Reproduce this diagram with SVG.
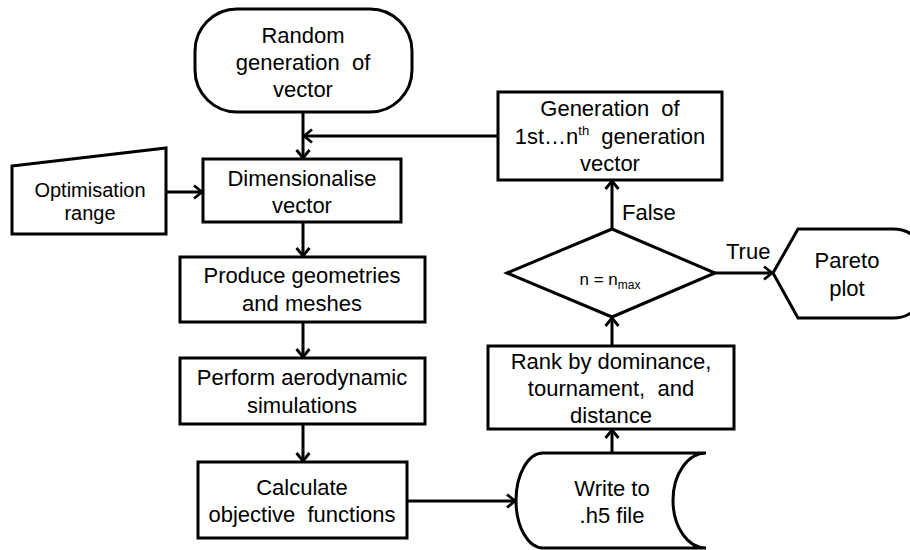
<svg xmlns="http://www.w3.org/2000/svg" width="910" height="550" viewBox="0 0 910 550">
<style>
.s{fill:#fff;stroke:#000;stroke-width:3}
.c{fill:none;stroke:#000;stroke-width:3}
text{font-family:"Liberation Sans",Arial,sans-serif;font-size:22px;fill:#000;text-anchor:middle;white-space:pre}
.sm{font-size:20px}
.lbl{text-anchor:start}
</style>
<defs>
<marker id="a" markerUnits="userSpaceOnUse" markerWidth="20" markerHeight="20" viewBox="-10 -10 20 20" refX="0" refY="0" orient="auto">
<path d="M-8,-6.5 L0,0 L-8,6.5" fill="none" stroke="#000" stroke-width="2.8"/>
</marker>
</defs>
<g id="connectors">
<line class="c" x1="303" y1="112" x2="303" y2="158" marker-end="url(#a)"/>
<line class="c" x1="498" y1="136" x2="304" y2="136" marker-end="url(#a)"/>
<line class="c" x1="166" y1="192" x2="202" y2="192" marker-end="url(#a)"/>
<line class="c" x1="303" y1="223" x2="303" y2="256" marker-end="url(#a)"/>
<line class="c" x1="303" y1="322" x2="303" y2="357" marker-end="url(#a)"/>
<line class="c" x1="303" y1="424" x2="303" y2="461" marker-end="url(#a)"/>
<line class="c" x1="407" y1="501" x2="515" y2="501" marker-end="url(#a)"/>
<line class="c" x1="612" y1="453" x2="612" y2="430" marker-end="url(#a)"/>
<line class="c" x1="612" y1="346" x2="612" y2="318" marker-end="url(#a)"/>
<line class="c" x1="612" y1="229" x2="612" y2="181" marker-end="url(#a)"/>
<line class="c" x1="715" y1="273" x2="772" y2="273" marker-end="url(#a)"/>
<text class="lbl" x="622" y="220">False</text>
<text class="lbl" x="726" y="259">True</text>
</g>
<g id="start">
<rect class="s" x="195" y="9" width="217" height="103" rx="42" ry="42"/>
<text x="303" y="43">Random</text>
<text x="303" y="70">generation  of</text>
<text x="303" y="97">vector</text>
</g>
<g id="optim">
<polygon class="s" points="12,166 166,148 166,234 12,234"/>
<text class="sm" x="90" y="197">Optimisation</text>
<text class="sm" x="90" y="220">range</text>
</g>
<g id="dim">
<rect class="s" x="203" y="159" width="198" height="63"/>
<text x="302" y="186">Dimensionalise</text>
<text x="302" y="213">vector</text>
</g>
<g id="produce">
<rect class="s" x="180" y="257" width="245" height="65"/>
<text x="302" y="283">Produce geometries</text>
<text x="302" y="311">and meshes</text>
</g>
<g id="perform">
<rect class="s" x="180" y="358" width="245" height="66"/>
<text x="302" y="385">Perform aerodynamic</text>
<text x="302" y="413">simulations</text>
</g>
<g id="calc">
<rect class="s" x="198" y="462" width="209" height="76"/>
<text x="302" y="495">Calculate</text>
<text x="302" y="522">objective  functions</text>
</g>
<g id="write">
<path class="s" d="M543,453 L706,453 A33,47.5 0 0 0 706,548 L543,548 A27,47.5 0 0 1 543,453 Z"/>
<text x="612" y="496">Write to</text>
<text x="612" y="523">.h5 file</text>
</g>
<g id="rank">
<rect class="s" x="488" y="346" width="246" height="83"/>
<text x="611" y="369">Rank by dominance,</text>
<text x="611" y="396">tournament,  and</text>
<text x="611" y="423">distance</text>
</g>
<g id="decision">
<polygon class="s" points="612,229 715,273 612,317 507,273"/>
<text x="610" y="285" style="font-size:17px">n = n<tspan style="font-size:12px" dy="4">max</tspan></text>
</g>
<g id="generation">
<rect class="s" x="498" y="92" width="224" height="88"/>
<text x="610" y="116">Generation  of</text>
<text x="610" y="144">1st…n<tspan style="font-size:13px" dy="-9">th</tspan><tspan dy="9">  generation</tspan></text>
<text x="610" y="171">vector</text>
</g>
<g id="pareto">
<path class="s" d="M773,273 L798,229 L893,229 Q925,229 925,273 Q925,318 893,318 L798,318 Z"/>
<text x="847" y="268">Pareto</text>
<text x="847" y="296">plot</text>
</g>
</svg>
